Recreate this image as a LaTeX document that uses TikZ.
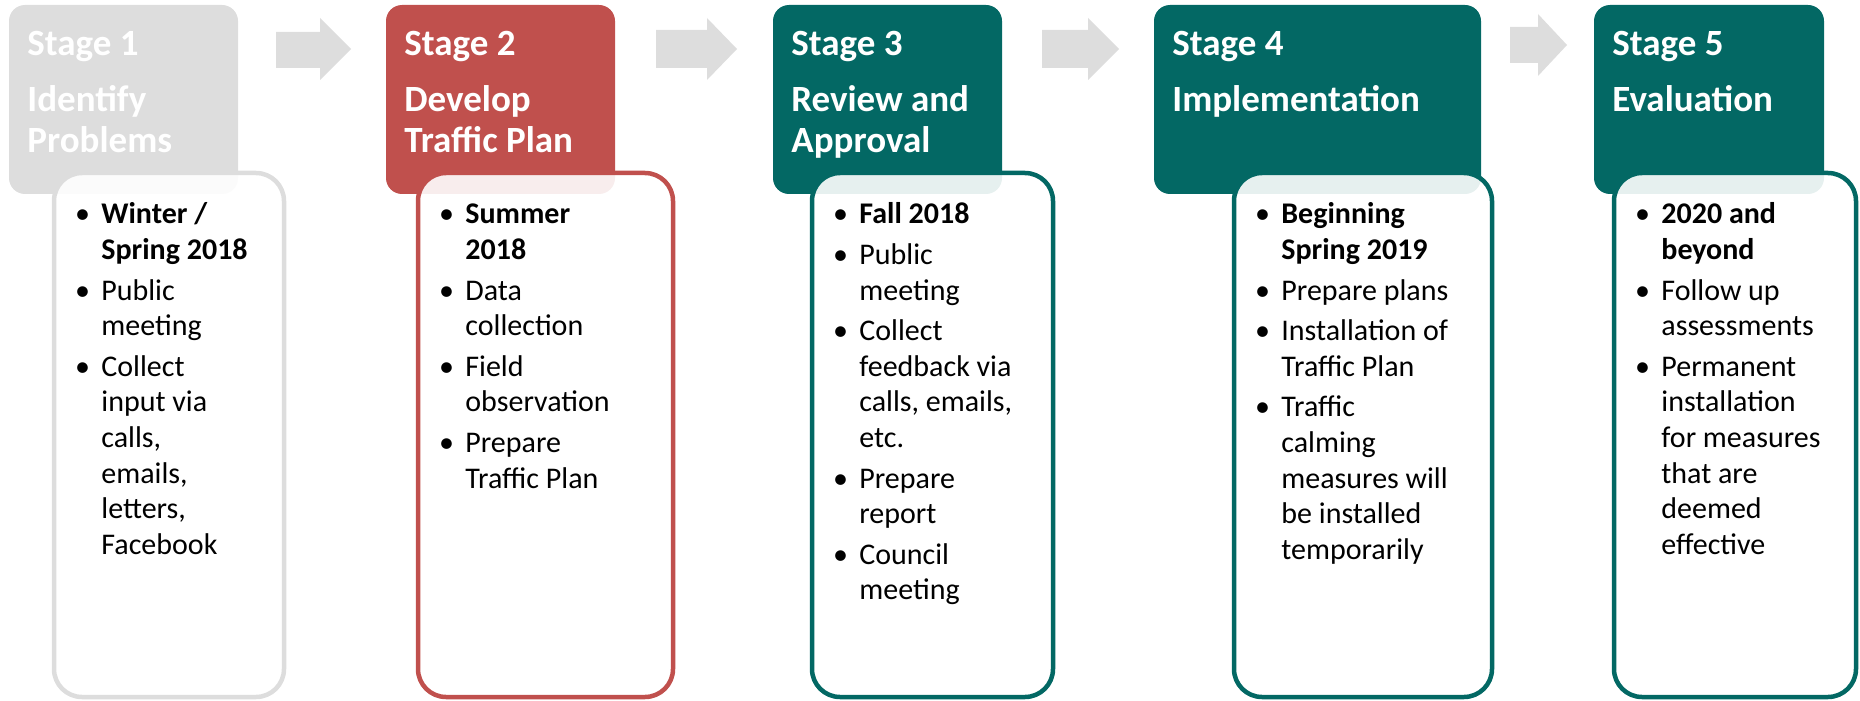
\documentclass[tikz,border=0pt]{standalone}
\usepackage{fontspec}
\setmainfont{Carlito}
\usepackage{xcolor}

\newcommand{\bul}{\llap{\textbullet\hspace{5.7pt}}}
\newcommand{\headtop}{\rule{0pt}{18pt}}
\newcommand{\listtop}{\rule{0pt}{14pt}}

\begin{document}
\begin{tikzpicture}[x=0.5pt,y=-0.5pt]

\definecolor{stagegray}{RGB}{221,221,221}
\definecolor{stagered}{RGB}{192,80,77}
\definecolor{stageteal}{RGB}{3,104,100}

\tikzset{
  head/.style={rounded corners=8pt},
  list/.style={line width=2.25pt, rounded corners=14pt, fill=white, fill opacity=0.9},
  headtext/.style={anchor=north west, inner sep=0pt, align=left, text=white,
    font=\bfseries\fontsize{18.5pt}{20.5pt}\selectfont},
  listtext/.style={anchor=north west, inner sep=0pt, align=left,
    font=\fontsize{15pt}{17.8pt}\selectfont},
}

\useasboundingbox (0,0) rectangle (1860,701);

% arrows between the stages
\fill[stagegray] (276,32) -- (320,32) -- (320,18) -- (351,49) -- (320,80) -- (320,68) -- (276,68) -- cycle;
\fill[stagegray] (656,30) -- (707,30) -- (707,18) -- (737,49) -- (707,80) -- (707,68) -- (656,68) -- cycle;
\fill[stagegray] (1042,30) -- (1088,30) -- (1088,18) -- (1119,49) -- (1088,80) -- (1088,68) -- (1042,68) -- cycle;
\fill[stagegray] (1510,27) -- (1538,27) -- (1538,14) -- (1567,45) -- (1538,76) -- (1538,63) -- (1510,63) -- cycle;

% stage 1
\fill[stagegray, head] (9,5) rectangle (238,194);
\draw[stagegray, list] (54,173) rectangle (284,697);
\node[headtext] (s1) at (27,19) {\headtop Stage 1\\[7.5pt]Identify\\Problems};
\node[listtext] (l1) at (101,195.5) {\listtop\bul\textbf{Winter /}\\\textbf{Spring 2018}\\[2.5pt]
  \bul Public\\meeting\\[2.5pt]
  \bul Collect\\input via\\calls,\\emails,\\letters,\\Facebook};

% stage 2
\fill[stagered, head] (386,5) rectangle (615,194);
\draw[stagered, list] (418,173) rectangle (673,697);
\node[headtext] (s2) at (404,19) {\headtop Stage 2\\[7.5pt]Develop\\Traffic Plan};
\node[listtext] (l2) at (465,195.5) {\listtop\bul\textbf{Summer}\\\textbf{2018}\\[2.5pt]
  \bul Data\\collection\\[2.5pt]
  \bul Field\\observation\\[2.5pt]
  \bul Prepare\\Traffic Plan};

% stage 3
\fill[stageteal, head] (773,5) rectangle (1002,194);
\draw[stageteal, list] (812,173) rectangle (1053,697);
\node[headtext] (s3) at (791,19) {\headtop Stage 3\\[7.5pt]Review and\\Approval};
\node[listtext] (l3) at (859,195.5) {\listtop\bul\textbf{Fall 2018}\\[2.5pt]
  \bul Public\\meeting\\[2.5pt]
  \bul Collect\\feedback via\\calls, emails,\\etc.\\[2.5pt]
  \bul Prepare\\report\\[2.5pt]
  \bul Council\\meeting};

% stage 4
\fill[stageteal, head] (1154,5) rectangle (1481,194);
\draw[stageteal, list] (1234,173) rectangle (1492,697);
\node[headtext] (s4) at (1172,19) {\headtop Stage 4\\[7.5pt]Implementation};
\node[listtext] (l4) at (1281,195.5) {\listtop\bul\textbf{Beginning}\\\textbf{Spring 2019}\\[2.5pt]
  \bul Prepare plans\\[2.5pt]
  \bul Installation of\\Traffic Plan\\[2.5pt]
  \bul Traffic\\calming\\measures will\\be installed\\temporarily};

% stage 5
\fill[stageteal, head] (1594,5) rectangle (1824,194);
\draw[stageteal, list] (1614,173) rectangle (1856,697);
\node[headtext] (s5) at (1612,19) {\headtop Stage 5\\[7.5pt]Evaluation};
\node[listtext] (l5) at (1661,195.5) {\listtop\bul\textbf{2020 and}\\\textbf{beyond}\\[2.5pt]
  \bul Follow up\\assessments\\[2.5pt]
  \bul Permanent\\installation\\for measures\\that are\\deemed\\effective};

\end{tikzpicture}
\end{document}
